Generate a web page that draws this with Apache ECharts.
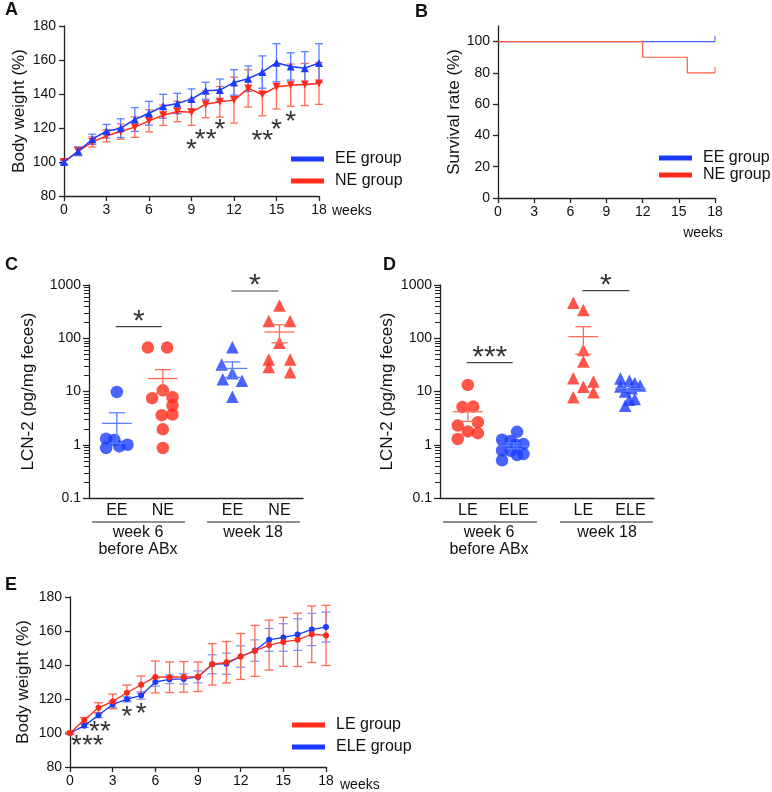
<!DOCTYPE html>
<html><head><meta charset="utf-8">
<script src="https://cdn.jsdelivr.net/npm/echarts@6/dist/echarts.min.js"></script>
<style>html,body{margin:0;padding:0;background:#fff}#c{width:772px;height:792px}</style>
</head><body><div id="c"></div>
<script>
// ---------- DATA ----------
// Panel A: body weight (%)
const weeks = [0,1,2,3,4,5,6,7,8,9,10,11,12,13,14,15,16,17,18];
const aEE   = [100,106.3,113.4,118.1,119.9,125,128.7,132.8,134.4,137,141.9,142.3,146.8,149,152.9,158.4,156.2,155.2,158.2];
const aEEsd = [1,2.5,3,4,5.5,7,7,7,6,6,5,6.5,7.5,7.5,9.5,11.2,8,9.7,11.4];
const aNE   = [100,106.3,111.8,115.4,117.9,120.5,124.2,127.5,129.7,129.3,134,135.4,136.4,143.3,139.7,144.2,145.2,145.6,146.2];
const aNEsd = [1.5,2.5,3,3.5,4.5,6,6.5,6,6,7.7,8,9,13.5,11,12.5,13,12.4,12.4,12.3];
const aStarX = [9,10,11,14,15,16];
const aStarY = [110.5,116.3,122.2,115.7,122,127];
const aStarT = ['*','**','*','**','*','*'];
// Panel B: survival (%)
const bEEx = [0,18], bEE = [100,100];
const bNEx = [0,12,15.7,18], bNE = [100,90,80,80];
// Panel C: LCN-2 (pg/mg feces)
const cCats = ['EE','NE','EE','NE'];
const cGroups = ['week 6','before ABx','week 18'];
const cEE6  = [9.8,1.30,1.23,0.87,0.93,1.0];
const cEE6dx = [0,-0.5,-0.12,-0.5,0.12,0.5];
const cNE6  = [66.8,66.8,10.5,7.5,7.8,5.5,3.6,3.7,1.95,0.87];
const cNE6dx = [-0.7,0.2,0,-0.5,0.45,0.45,-0.05,0.45,0,0];
const cEE18 = [68,32,22,17,16,8];
const cEE18dx = [0,-0.5,0,-0.45,0.45,0];
const cNE18 = [410,211,211,82,40,40,29,23];
const cNE18dx = [0,-0.5,0.5,0,-0.5,0.5,-0.5,0.5];
const cSigY = [165,772];
const cSigT = ['*','*'];
// Panel D
const dCats = ['LE','ELE','LE','ELE'];
const dLE6  = [13.3,5.1,5.2,2.3,2.66,1.78,1.65,1.28];
const dLE6dx = [0,-0.25,0.25,-0.47,0.47,0,0.47,-0.47];
const dELE6 = [1.75,1.24,1.18,1.03,1.0,0.78,0.77,0.67,0.64,0.51];
const dELE6dx = [0.15,-0.55,-0.15,0.45,0.1,-0.55,-0.15,0.45,0.15,-0.55];
const dLE18 = [466,340,60,36.5,17.8,15.4,12.3,9.7,7.8];
const dLE18dx = [-0.47,0,0,0,-0.47,0.47,0,0.47,-0.47];
const dELE18 = [17.5,16,14.4,13,12.4,11.5,10,7.2,7,5.4];
const dELE18dx = [-0.47,-0.05,0.2,0.45,-0.47,0.05,-0.25,0.2,-0.05,-0.25];
const dSigY = [35,783];
const dSigT = ['***','*'];
// Panel E
const eLE   = [100,107.6,114.8,118.6,123.7,128.4,133,132.8,133,133.1,140.4,141.6,145,148.3,151.7,153.6,154.8,158.1,157.4];
const eLEsd = [0.8,1.5,3,4.3,4.5,5.1,9.4,9,9,8.7,12.2,12.2,13.5,15,14.7,14.4,15.7,16.6,17.7];
const eELE  = [100,104.2,110.5,116.8,119.8,122.1,130,131.6,131.8,133,140.4,140.8,145,148.5,154.8,156.2,157.9,160.9,162.3];
const eELEsd= [0.5,1,1.5,2,1.5,2.2,2.5,2.5,3,3.5,5.6,6.2,6.3,6.3,6.7,8.1,9.3,9.5,8.8];
const eStarX = [1.22,2.11,4,5];
const eStarY = [95.7,104.2,112.5,114.4];
const eStarT = ['***','**','*','*'];

// ---------- LAYOUT / STYLE ----------
const FONT = '"Liberation Sans", Arial, sans-serif';
const BLUE='#1a3cff', RED='#ff2a1a', BLUE_L='#5a80ff', RED_L='#ff6a55';
const catPos = [1.3,3.45,6.7,8.9];
const minorVals = [];
[0.1,1,10,100].forEach(function(b){for(let k=2;k<=9;k++) minorVals.push(Math.round(b*k*1000)/1000);});

function meanSem(a){const n=a.length;const m=a.reduce((s,v)=>s+v,0)/n;const sd=Math.sqrt(a.reduce((s,v)=>s+(v-m)*(v-m),0)/(n-1));return [m,sd/Math.sqrt(n)];}

function errBar(color,cap,lw){
  return function(p,api){
    const x=api.value(0),m=api.value(1),e=api.value(2);
    const hi=api.coord([x,m+e]),lo=api.coord([x,m-e]);
    const st={stroke:color,lineWidth:lw};
    return {type:'group',children:[
      {type:'line',shape:{x1:hi[0],y1:hi[1],x2:lo[0],y2:lo[1]},style:st},
      {type:'line',shape:{x1:hi[0]-cap,y1:hi[1],x2:hi[0]+cap,y2:hi[1]},style:st},
      {type:'line',shape:{x1:lo[0]-cap,y1:lo[1],x2:lo[0]+cap,y2:lo[1]},style:st}]};
  };
}
function meanBar(color){
  return function(p,api){
    const x=api.value(0),m=api.value(1),e=api.value(2);
    const c=api.coord([x,m]),hi=api.coord([x,m+e]),lo=api.coord([x,m-e]);
    const st={stroke:color,lineWidth:1.3};
    return {type:'group',children:[
      {type:'line',shape:{x1:c[0]-15,y1:c[1],x2:c[0]+15,y2:c[1]},style:st},
      {type:'line',shape:{x1:hi[0],y1:hi[1],x2:lo[0],y2:lo[1]},style:st},
      {type:'line',shape:{x1:hi[0]-8,y1:hi[1],x2:hi[0]+8,y2:hi[1]},style:st},
      {type:'line',shape:{x1:lo[0]-8,y1:lo[1],x2:lo[0]+8,y2:lo[1]},style:st}]};
  };
}
const axLine={show:true,lineStyle:{color:'#222',width:1.3}};
const axTick={show:true,length:5,lineStyle:{color:'#222',width:1.3}};
const axLab={color:'#111',fontSize:14,fontFamily:FONT};
const nameStyle={fontSize:17,color:'#111',fontFamily:FONT};

const grid=[
  {left:64,top:26,width:255,height:170},
  {left:498,top:26,width:217,height:172},
  {left:89,top:285,width:214,height:213},
  {left:440,top:285,width:214,height:213},
  {left:70,top:597,width:256,height:170}
];
function weekX(g){return {gridIndex:g,type:'value',min:0,max:18,interval:3,axisLine:axLine,axisTick:axTick,axisLabel:Object.assign({margin:7},axLab),splitLine:{show:false}};}
function catX(g,cats){return {gridIndex:g,type:'value',min:0,max:10,axisLine:axLine,axisTick:{show:false},splitLine:{show:false},
  axisLabel:{customValues:catPos,margin:5,color:'#111',fontSize:16,fontFamily:FONT,formatter:v=>{const i=catPos.findIndex(p=>Math.abs(p-v)<1e-6);return i>=0?cats[i]:'';}}};}
function logY(g,name,gap){return {gridIndex:g,type:'log',logBase:10,min:0.1,max:1000,position:'left',axisLine:axLine,axisTick:{show:true,length:6,lineStyle:{color:'#222',width:1.3}},
  axisLabel:Object.assign({formatter:v=>String(+(+v).toPrecision(4))},axLab),splitLine:{show:false},
  name:name,nameLocation:'middle',nameGap:gap,nameTextStyle:nameStyle};}

const xAxis=[weekX(0),weekX(1),catX(2,cCats),catX(3,dCats),weekX(4)];
const yAxis=[
  {gridIndex:0,type:'value',min:80,max:180,interval:20,axisLine:axLine,axisTick:axTick,axisLabel:axLab,splitLine:{show:false},name:'Body weight (%)',nameLocation:'middle',nameGap:36,nameTextStyle:nameStyle},
  {gridIndex:1,type:'value',min:0,max:110,axisLine:axLine,axisTick:Object.assign({customValues:[0,20,40,60,80,100]},axTick),axisLabel:Object.assign({customValues:[0,20,40,60,80,100]},axLab),splitLine:{show:false},name:'Survival rate (%)',nameLocation:'middle',nameGap:30,nameTextStyle:nameStyle},
  logY(2,'LCN-2 (pg/mg feces)',52),
  logY(3,'LCN-2 (pg/mg feces)',44),
  {gridIndex:4,type:'value',min:80,max:180,interval:20,axisLine:axLine,axisTick:axTick,axisLabel:axLab,splitLine:{show:false},name:'Body weight (%)',nameLocation:'middle',nameGap:38,nameTextStyle:nameStyle}
];

const series=[];
function starSeries(xi,yi,xs,ys,ts,size,off){
  series.push({type:'scatter',name:'stars'+xi,xAxisIndex:xi,yAxisIndex:yi,clip:false,symbolSize:1,itemStyle:{color:'rgba(0,0,0,0)'},z:10,
    data:xs.map((x,i)=>({value:[x,ys[i]],name:ts[i]})),
    label:{show:true,position:'inside',formatter:'{b}',fontSize:size,fontFamily:FONT,color:'#000',offset:off}});
}
// A
series.push({type:'custom',name:'aNEerr',xAxisIndex:0,yAxisIndex:0,renderItem:errBar(RED_L,4,1.3),data:weeks.map((w,i)=>[w,aNE[i],aNEsd[i]]),z:2});
series.push({type:'custom',name:'aEEerr',xAxisIndex:0,yAxisIndex:0,renderItem:errBar(BLUE_L,4,1.3),data:weeks.map((w,i)=>[w,aEE[i],aEEsd[i]]),z:2});
series.push({type:'line',name:'NE group',xAxisIndex:0,yAxisIndex:0,data:weeks.map((w,i)=>[w,aNE[i]]),symbol:'triangle',symbolRotate:180,symbolSize:8,color:RED,lineStyle:{width:1.5,color:RED},itemStyle:{color:RED},z:3});
series.push({type:'line',name:'EE group',xAxisIndex:0,yAxisIndex:0,data:weeks.map((w,i)=>[w,aEE[i]]),symbol:'triangle',symbolSize:8,color:BLUE,lineStyle:{width:1.5,color:BLUE},itemStyle:{color:BLUE},z:4});
starSeries(0,0,aStarX,aStarY,aStarT,28,[0,6]);
// B
series.push({type:'line',name:'EE group',xAxisIndex:1,yAxisIndex:1,data:bEEx.map((x,i)=>[x,bEE[i]]),step:'end',symbol:'none',color:BLUE,lineStyle:{width:1.2,color:'#4466ff'}});
series.push({type:'line',name:'NE group',xAxisIndex:1,yAxisIndex:1,data:bNEx.map((x,i)=>[x,bNE[i]]),step:'end',symbol:'none',color:RED,lineStyle:{width:1.2,color:'#ff5a3c'}});
series.push({type:'scatter',name:'censorB',xAxisIndex:1,yAxisIndex:1,symbol:'rect',symbolSize:[1.3,6],symbolOffset:[0,-3],
  data:[{value:[bEEx[bEEx.length-1],bEE[bEE.length-1]],itemStyle:{color:'#4466ff'}},{value:[bNEx[bNEx.length-1],bNE[bNE.length-1]],itemStyle:{color:'#ff5a3c'}}]});
// C & D
function dotGroup(xi,yi,vals,dx,k,color,sym){
  series.push({type:'scatter',name:'pts',xAxisIndex:xi,yAxisIndex:yi,symbol:sym,symbolSize:12.5,itemStyle:{color:color},data:vals.map((v,i)=>[catPos[k]+dx[i],v]),z:3});
  const ms=meanSem(vals);
  series.push({type:'custom',name:'mean',xAxisIndex:xi,yAxisIndex:yi,renderItem:meanBar(color===BLUE?BLUE_L:RED_L),data:[[catPos[k],ms[0],ms[1]]],z:4});
}
dotGroup(2,2,cEE6,cEE6dx,0,BLUE,'circle');
dotGroup(2,2,cNE6,cNE6dx,1,RED,'circle');
dotGroup(2,2,cEE18,cEE18dx,2,BLUE,'triangle');
dotGroup(2,2,cNE18,cNE18dx,3,RED,'triangle');
dotGroup(3,3,dLE6,dLE6dx,0,RED,'circle');
dotGroup(3,3,dELE6,dELE6dx,1,BLUE,'circle');
dotGroup(3,3,dLE18,dLE18dx,2,RED,'triangle');
dotGroup(3,3,dELE18,dELE18dx,3,BLUE,'triangle');
function sigLines(xi,yi,ys,ts){
  ys.forEach((y,j)=>{
    const x1=catPos[2*j]-0.05,x2=catPos[2*j+1]-0.05;
    series.push({type:'line',name:'sig',xAxisIndex:xi,yAxisIndex:yi,symbol:'none',clip:false,lineStyle:{color:'#444',width:1.2},data:[[x1,y],[x2,y]]});
  });
  starSeries(xi,yi,ys.map((y,j)=>(catPos[2*j]+catPos[2*j+1])/2-0.05),ys,ts,30,[0,-5]);
}
sigLines(2,2,cSigY,cSigT);
sigLines(3,3,dSigY,dSigT);
// E
series.push({type:'custom',name:'eELEerr',xAxisIndex:4,yAxisIndex:4,renderItem:errBar('#6f92ff',4.5,1.2),data:weeks.map((w,i)=>[w,eELE[i],eELEsd[i]]),z:2});
series.push({type:'custom',name:'eLEerr',xAxisIndex:4,yAxisIndex:4,renderItem:errBar(RED_L,4.5,1.3),data:weeks.map((w,i)=>[w,eLE[i],eLEsd[i]]),z:3});
series.push({type:'line',name:'ELE group',xAxisIndex:4,yAxisIndex:4,data:weeks.map((w,i)=>[w,eELE[i]]),symbol:'circle',symbolSize:6,color:BLUE,lineStyle:{width:1.3,color:BLUE},itemStyle:{color:BLUE},z:4});
series.push({type:'line',name:'LE group',xAxisIndex:4,yAxisIndex:4,data:weeks.map((w,i)=>[w,eLE[i]]),symbol:'circle',symbolSize:6,color:RED,lineStyle:{width:1.3,color:RED},itemStyle:{color:RED},z:5});
starSeries(4,4,eStarX,eStarY,eStarT,28,[0,6]);

const legStyle={orient:'vertical',icon:'rect',itemWidth:33,itemHeight:5,textStyle:{fontSize:16,color:'#111',fontFamily:FONT,lineHeight:16,padding:[0,0,0,6]},selectedMode:false,padding:0};
const legend=[
  Object.assign({left:291,top:151,itemGap:6,data:['EE group','NE group']},legStyle),
  Object.assign({left:659,top:150,itemGap:1,data:['EE group','NE group']},legStyle),
  Object.assign({left:292,top:717,itemGap:6,data:['LE group','ELE group']},legStyle)
];

function txt(t,x,y,opt){return {type:'text',style:{text:t,x:x,y:y,font:(opt&&opt.font)||('16px '+FONT),fill:'#111',align:(opt&&opt.align)||'left',verticalAlign:(opt&&opt.va)||'middle'}};}
function hline(x1,x2,y){return {type:'line',shape:{x1:x1,y1:y,x2:x2,y2:y},style:{stroke:'#222',lineWidth:1.2}};}
const graphic=[
  txt('A',5,10,{font:'bold 18px '+FONT}),
  txt('B',415,12,{font:'bold 18px '+FONT}),
  txt('C',5,265,{font:'bold 18px '+FONT}),
  txt('D',383,265,{font:'bold 18px '+FONT}),
  txt('E',5,585,{font:'bold 18px '+FONT}),
  txt('weeks',332,211,{font:'14px '+FONT}),
  txt('weeks',703,233,{font:'14px '+FONT,align:'center'}),
  txt('weeks',340,785,{font:'14px '+FONT}),
  hline(92,185,522),hline(207,300,522),
  hline(443,537,522),hline(560,653,522),
  txt(cGroups[0],138,533,{align:'center'}),
  txt(cGroups[1],138,550,{align:'center'}),
  txt(cGroups[2],253,533,{align:'center'}),
  txt(cGroups[0],489,533,{align:'center'}),
  txt(cGroups[1],489,550,{align:'center'}),
  txt(cGroups[2],607,533,{align:'center'})
];

const chart=echarts.init(document.getElementById('c'));
chart.setOption({animation:false,backgroundColor:'#fff',textStyle:{fontFamily:FONT},grid,xAxis,yAxis,series,legend,graphic});
// minor ticks of the two log axes, positioned through the axes' own scale
const minorEls=[];
[2,3].forEach(function(g){
  minorVals.forEach(function(v){
    const p=chart.convertToPixel({xAxisIndex:g,yAxisIndex:g},[0,v]);
    if(p && isFinite(p[0]) && isFinite(p[1])){
      const y=Math.round(p[1])+0.5, x=Math.round(p[0]);
      minorEls.push({type:'rect',silent:true,z:100,shape:{x:x-5,y:y-0.5,width:5,height:1},style:{fill:'#222'}});
    }
  });
});
chart.setOption({graphic:graphic.concat(minorEls)});
</script></body></html>
